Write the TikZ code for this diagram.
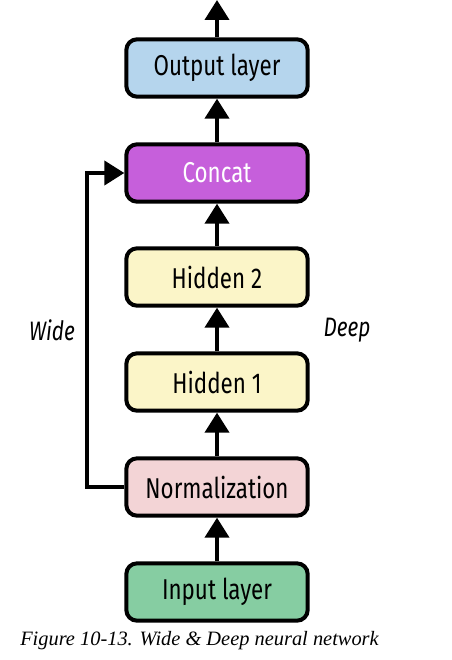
\documentclass[tikz,border=0pt]{standalone}
\usepackage{fontspec}
\setmainfont{Liberation Serif}
\newfontfamily\boxfont[FakeStretch=0.78]{Fira Sans}
\usetikzlibrary{positioning, arrows.meta, calc}

\definecolor{outblue}{HTML}{B5D5ED}
\definecolor{catpurple}{HTML}{C65FDB}
\definecolor{hidyellow}{HTML}{FBF5C8}
\definecolor{normpink}{HTML}{F3D4D6}
\definecolor{ingreen}{HTML}{86CDA2}

\tikzset{
	layer/.style={draw=black, line width=3pt, rounded corners=8pt, minimum width=136pt, minimum height=43pt, inner sep=0pt, font=\boxfont\fontsize{21.5}{23}\selectfont},
	flow/.style={line width=3pt, -{Triangle[width=18pt, length=15pt]}},
	side/.style={font=\boxfont\itshape\fontsize{20}{22}\selectfont},
}

\begin{document}
\begin{tikzpicture}[x=0.75pt, y=-0.75pt]
		\useasboundingbox (0, 0) rectangle (452, 660);
		\node[layer, fill=outblue] (out) at (217, 68){Output layer};
		\node[layer, fill=catpurple, text=white] (cat) at (217, 173){Concat};
		\node[layer, fill=hidyellow] (h2) at (217, 277){Hidden 2};
		\node[layer, fill=hidyellow] (h1) at (217, 382){Hidden 1};
		\node[layer, fill=normpink] (norm) at (217, 487){Normalization};
		\node[layer, fill=ingreen] (in) at (217, 592){Input layer};
		\coordinate (top) at (217, 0);
		\coordinate (bend) at (87, 173);
		\draw[flow] (in) -- (norm);
		\draw[flow] (norm) -- (h1);
		\draw[flow] (h1) -- (h2);
		\draw[flow] (h2) -- (cat);
		\draw[flow] (cat) -- (out);
		\draw[flow] (out) -- (top);
		\draw[flow, line join=miter] (norm.west) -| (bend) -- (cat.west);
		\node[side] (wide) at (52, 330){Wide};
		\node[side] (deep) at (347, 330){Deep};
		\node[anchor=west, font=\itshape\fontsize{15.3}{17}\selectfont, inner sep=0pt] (cap) at (20, 641){Figure 10-13. Wide \& Deep neural network};
	\end{tikzpicture}
\end{document}
